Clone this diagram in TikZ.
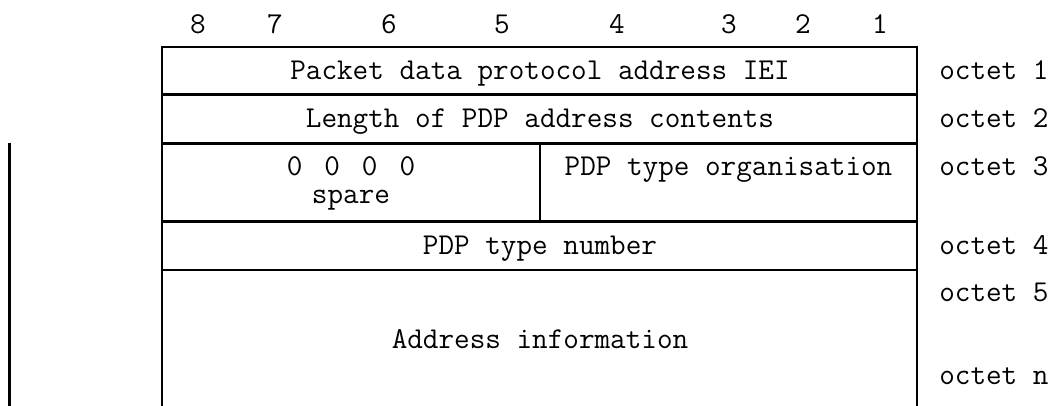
\documentclass[tikz,border=0pt]{standalone}
\usepackage{fontspec}
\usetikzlibrary{calc}

\begin{document}
\begin{tikzpicture}[x=1pt,y=-1pt,line width=2.6pt,
  every node/.style={font=\ttfamily\fontsize{30.3}{34}\selectfont,inner sep=0pt,anchor=base},
  octet/.style={anchor=base west}]
  \useasboundingbox (0,0) rectangle (1060,406);
  \coordinate (TL) at (162,47);              % table corners
  \coordinate (TR) at (917,47);
  \coordinate (BL) at (162,406);
  \coordinate (BR) at (917,406);
  \coordinate (Mt) at (540,143.5);           % split of octet 3
  \coordinate (Mb) at (540,221.5);
  \draw (BL)--(TL)--(TR)--(BR);
  \foreach \y in {94.5,143.5,221.5,270}
    \draw (TL|-0,\y)--(TR|-0,\y);
  \draw (Mt)--(Mb);
  \coordinate (St) at (9.5,143.5);           % loose line on the left
  \coordinate (Sb) at (9.5,406);
  \draw (St)--(Sb);
  % bit numbers
  \foreach \b/\x in {8/198,7/275,6/389,5/502,4/617,3/729,2/803,1/880}
    \node (bit\b) at (\x,33.5) {\b};
  % fields
  \node (iei) at (540,79.5) {Packet data protocol address IEI};
  \node (len) at (540,127.5) {Length of PDP address contents};
  \node (zero) at (351,175.5) {0\hspace{22pt}0\hspace{22pt}0\hspace{22pt}0};
  \node (spare) at (351,204) {spare};
  \node (org) at (728.5,175.5) {PDP type organisation};
  \node (num) at (540,254.5) {PDP type number};
  \node (addr) at (540,348.5) {Address information};
  % octet labels
  \node[octet] (o1) at (938,79.5) {octet 1};
  \node[octet] (o2) at (938,127.5) {octet 2};
  \node[octet] (o3) at (938,175.5) {octet 3};
  \node[octet] (o4) at (938,254.5) {octet 4};
  \node[octet] (o5) at (938,301.5) {octet 5};
  \node[octet] (on) at (938,384.5) {octet n};
\end{tikzpicture}
\end{document}
